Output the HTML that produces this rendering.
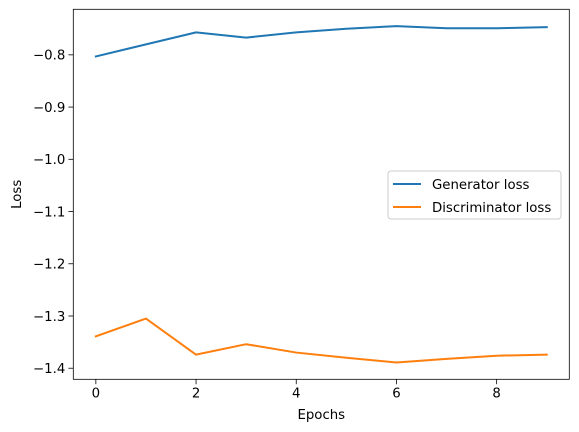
<!DOCTYPE html>
<html><head><meta charset="utf-8"><style>
body{margin:0;background:#fff}
svg{display:block;font-family:"DejaVu Sans","Liberation Sans",sans-serif}
</style></head><body>
<svg id="c" width="579" height="432"></svg>
<script>
const epochs=[0,1,2,3,4,5,6,7,8,9];
const generatorLoss=[-0.803,-0.780,-0.757,-0.767,-0.757,-0.750,-0.745,-0.749,-0.749,-0.747];
const discriminatorLoss=[-1.339,-1.305,-1.374,-1.354,-1.370,-1.380,-1.389,-1.382,-1.376,-1.374];
const xTicks=[0,2,4,6,8];
const yTicks=[-0.8,-0.9,-1.0,-1.1,-1.2,-1.3,-1.4];
const NS="http://www.w3.org/2000/svg";
const svg=document.getElementById('c');
const L=73.3,R=569.3,T=9.3,B=379.3;
const xMin=-0.45,xMax=9.45;
const all=generatorLoss.concat(discriminatorLoss);
const dmin=Math.min(...all),dmax=Math.max(...all),pad=(dmax-dmin)*0.05;
const yMin=dmin-pad,yMax=dmax+pad;
const sx=v=>L+(v-xMin)/(xMax-xMin)*(R-L);
const sy=v=>B-(v-yMin)/(yMax-yMin)*(B-T);
function mk(tag,attrs,text){const e=document.createElementNS(NS,tag);for(const k in attrs)e.setAttribute(k,attrs[k]);if(text!==undefined)e.textContent=text;svg.appendChild(e);return e;}
xTicks.forEach(t=>{
 const x=sx(t);
 const l=mk('line',{x1:x,x2:x,y1:B,y2:B+4.9,stroke:'#000','stroke-width':0.8});
 
 
 const tx=mk('text',{x:x,y:B+18,'text-anchor':'middle','font-size':'13.3px',fill:'#000'},String(t));
 
 
});
yTicks.forEach(t=>{
 const y=sy(t);
 const l=mk('line',{x1:L-4.9,x2:L,y1:y,y2:y,stroke:'#000','stroke-width':0.8});
 
 
 const tx=mk('text',{x:L-8,y:y+4.8,'text-anchor':'end','font-size':'13.3px',fill:'#000'},t.toFixed(1).replace('-','\u2212'));
 
 
});
function series(vals,color,name){
 const p=mk('polyline',{points:epochs.map((e,i)=>sx(e)+','+sy(vals[i])).join(' '),fill:'none',stroke:color,'stroke-width':2,'stroke-linejoin':'round','stroke-linecap':'square'});
 
 
}
series(generatorLoss,'#1f77b4','generator-loss-line');
series(discriminatorLoss,'#ff7f0e','discriminator-loss-line');
const fr=mk('rect',{x:L,y:T,width:R-L,height:B-T,fill:'none',stroke:'#000','stroke-width':0.8});


const xl=mk('text',{x:(L+R)/2,y:419,'text-anchor':'middle','font-size':'13.3px'},'Epochs');


const yl=mk('text',{x:0,y:0,'text-anchor':'middle','font-size':'13.3px',transform:'translate(21,'+((T+B)/2)+') rotate(-90)'},'Loss');


const lg=mk('rect',{x:388,y:171,width:173,height:48,rx:3,fill:'#fff','fill-opacity':0.8,stroke:'#ccc','stroke-width':1});


[['Generator loss','#1f77b4',184],['Discriminator loss','#ff7f0e',207]].forEach(([n,c,y])=>{
 const l=mk('line',{x1:393,x2:421,y1:y,y2:y,stroke:c,'stroke-width':2});
 
 
 const t=mk('text',{x:432,y:y+4.8,'font-size':'13.3px'},n);
 
 
});
</script>
</body></html>
